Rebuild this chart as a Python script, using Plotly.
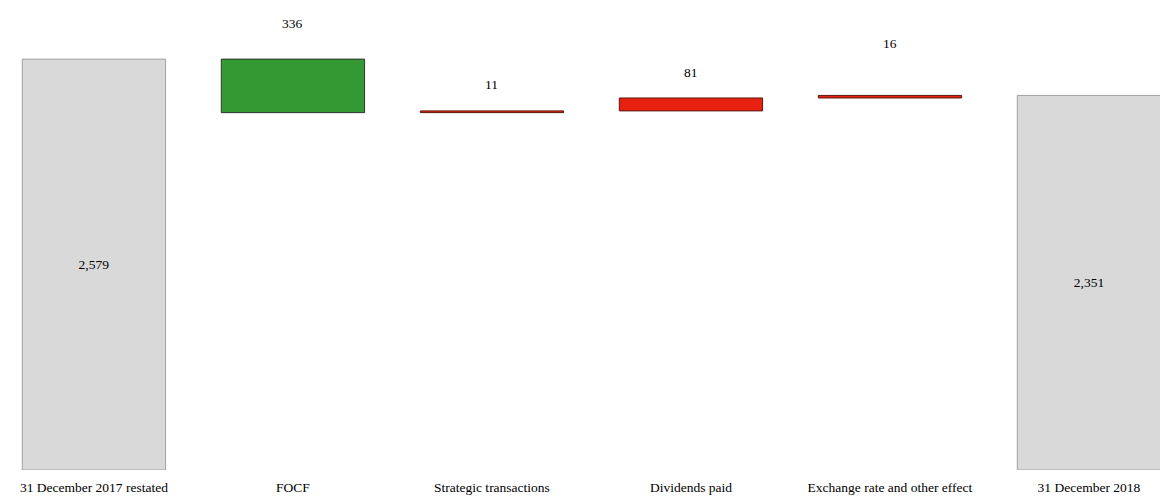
import plotly.graph_objects as go

categories = ["31 December 2017 restated", "FOCF", "Strategic transactions",
              "Dividends paid", "Exchange rate and other effect", "31 December 2018"]
measures = ["absolute", "relative", "relative", "relative", "relative", "total"]
values = [2579, -336, 11, 81, 16, 0]
total_labels = ["2,579", "", "", "", "", "2,351"]
step_labels = ["", "336", "11", "81", "16", ""]
label_offsets = [0, 36, 26, 25, 52, 0]

font = "Liberation Serif, Times New Roman, serif"
fsize = 13.5

fig = go.Figure(go.Waterfall(
    x=categories, measure=measures, y=values,
    text=total_labels, textposition="inside", insidetextanchor="middle",
    textfont=dict(family=font, size=fsize, color="black"),
    width=0.72,
    connector=dict(visible=False),
    totals=dict(marker=dict(color="#d9d9d9", line=dict(color="#a0a0a0", width=1))),
    decreasing=dict(marker=dict(color="#339933", line=dict(color="#333333", width=1))),
    increasing=dict(marker=dict(color="#e8200f", line=dict(color="#5a1a10", width=1))),
    hoverinfo="skip",
))

cum = 0
annotations = []
for i, (m, v) in enumerate(zip(measures, values)):
    if m == "absolute":
        cum = v
        continue
    if m == "total":
        continue
    before = cum
    cum = cum + v
    top = max(before, cum)
    annotations.append(dict(x=categories[i], y=top, text=step_labels[i], showarrow=False,
                            yanchor="middle", yshift=label_offsets[i],
                            font=dict(family=font, size=fsize, color="black")))

fig.update_layout(
    width=1160, height=496,
    margin=dict(l=0, r=0, t=0, b=26),
    paper_bgcolor="white", plot_bgcolor="white",
    showlegend=False,
    annotations=annotations,
    font=dict(family=font, size=fsize, color="black"),
    xaxis=dict(range=[-0.472, 5.357], showgrid=False, zeroline=False, showline=False,
               ticks="", ticklabelstandoff=7,
               tickfont=dict(family=font, size=fsize, color="black")),
    yaxis=dict(range=[0, 2950], visible=False),
)

fig.write_html("out.html", config={"displayModeBar": False},
               post_script="document.body.style.margin='0';document.body.style.overflow='hidden';")
